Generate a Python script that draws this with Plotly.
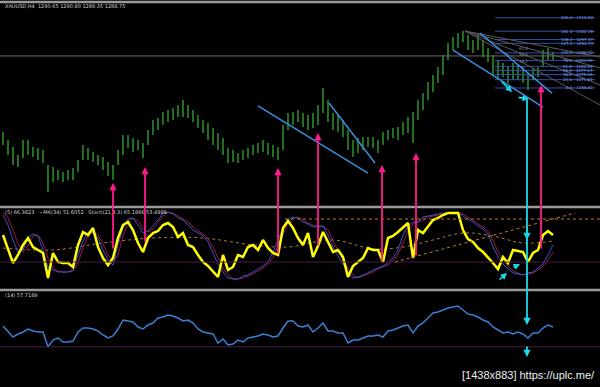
import plotly.graph_objects as go

# ---------------- data ----------------
bar_high = [1238.9,1233.8,1229.4,1224.4,1233.8,1233.8,1229.4,1228.8,1227.5,1218.1,
1216.8,1214.9,1213.7,1214.9,1216.2,1221.2,1230.7,1228.8,1226.3,1224.4,
1223.1,1220.0,1218.1,1227.5,1237.0,1237.0,1235.1,1233.8,1231.9,1240.1,
1246.4,1247.7,1251.5,1252.7,1254.0,1255.9,1259.0,1255.9,1252.7,1249.6,
1246.4,1244.5,1241.4,1238.2,1235.1,1228.8,1227.5,1225.6,1227.5,1228.8,
1230.7,1231.9,1233.8,1231.9,1230.7,1229.4,1243.3,1250.9,1251.5,1252.7,
1250.9,1249.6,1250.9,1255.9,1266.6,1259.0,1250.9,1249.6,1246.4,1240.1,
1233.8,1235.1,1235.7,1235.7,1235.7,1233.8,1238.9,1240.1,1241.4,1242.0,
1245.2,1248.3,1251.5,1259.0,1263.4,1270.4,1274.8,1279.8,1287.4,1294.9,
1298.7,1301.3,1302.5,1300.0,1296.8,1300.0,1296.8,1291.8,1287.4,1284.2,
1282.3,1279.8,1282.3,1281.1,1279.8,1274.8,1279.2,1279.8,1290.5,1291.8,
1289.3]
bar_low = [1230.7,1224.4,1218.1,1216.8,1222.5,1224.4,1223.1,1221.2,1219.3,1201.1,
1207.4,1208.6,1207.4,1208.6,1208.6,1213.7,1221.2,1221.2,1220.0,1218.1,
1214.9,1211.2,1208.6,1218.1,1224.4,1228.8,1226.3,1227.5,1222.5,1230.7,
1237.0,1240.1,1243.3,1245.2,1246.4,1248.3,1248.3,1247.7,1245.2,1241.4,
1238.2,1233.8,1230.7,1227.5,1224.4,1219.3,1220.0,1219.3,1221.2,1222.5,
1224.4,1225.6,1226.3,1224.4,1223.1,1221.2,1227.5,1240.1,1243.3,1245.2,
1242.0,1240.1,1241.4,1243.3,1250.9,1245.2,1240.1,1238.9,1235.7,1227.5,
1223.1,1225.6,1227.5,1229.4,1228.8,1225.6,1230.7,1233.8,1235.1,1233.8,
1237.0,1238.2,1231.9,1246.4,1252.7,1259.0,1264.1,1269.7,1274.8,1284.2,
1290.5,1291.8,1295.6,1290.5,1288.6,1290.5,1286.1,1283.0,1274.8,1271.6,
1273.5,1269.7,1271.6,1271.6,1269.7,1265.3,1271.6,1273.5,1279.8,1284.2,
1284.2]

osc_fast = [66,43.5,24,36,51,61.5,48,43.5,39,1.5,
39,25.5,24,24,18,51,70.5,66,76.5,48,
31.5,21,31.5,61.5,81,85.5,73.5,54,40.5,61.5,
69,72,81,84,78,63,69,51,48,36,
25.5,19.5,10.5,3,36,13.5,18,36,33,48,
51,43.5,58.5,46.5,39,36,76.5,87,76.5,61.5,
51,69,33,49.5,70.5,55.5,40.5,43.5,33,3,
19.5,25.5,31.5,46.5,43.5,43.5,25.5,61.5,64.5,70.5,
78,84,31.5,73.5,69,79.5,88.5,91.5,96,99,
99,99,73.5,60,55.5,46.5,40.5,33,24,15,
33,24,43.5,42,40.5,25.5,39,43.5,66,72,
66]

stoch_main = [96,81,58.5,40.5,43.5,61.5,67.5,64.5,43.5,18,
13.5,10.5,10.5,10.5,13.5,36,57,70.5,69,61.5,
43.5,28.5,21,51,76.5,90,91.5,81,69,72,
79.5,88.5,99,100,97.5,91.5,88.5,81,73.5,69,
64.5,55.5,39,22.5,10.5,1.5,0,0,4.5,6,
10.5,15,19.5,25.5,40.5,58.5,76.5,90,93,91.5,
85.5,82.5,78,79.5,79.5,66,48,34.5,22.5,10.5,
1.5,3,6,9,13.5,16.5,19.5,24,31.5,43.5,
66,79.5,85.5,85.5,93,94.5,96,97.5,99,99,
99,99,94.5,90,85.5,79.5,75,67.5,48,33,
22.5,15,9,7.5,6,9,10.5,16.5,22.5,36,
51]

stoch_signal = [100,91.5,73.5,52.5,40.5,49.5,64.5,66,54,31.5,
16.5,12,10.5,10.5,12,24,46.5,64.5,70.5,66,
52.5,36,25.5,36,64.5,84,91.5,87,75,70.5,
75,84,94.5,100,99,94.5,90,85.5,78,72,
67.5,60,48,31.5,16.5,6,0,0,1.5,4.5,
7.5,12,16.5,22.5,33,49.5,67.5,84,91.5,93,
88.5,84,81,78,79.5,73.5,57,42,28.5,16.5,
6,1.5,4.5,7.5,10.5,15,18,21,27,37.5,
54,72,82.5,85.5,88.5,93,94.5,96,97.5,99,
99,99,97.5,93,88.5,82.5,78,72,58.5,40.5,
28.5,19.5,12,9,6,7.5,9,13.5,19.5,28.5,
40.5]

ma34_idx = [0, 10, 20, 30, 40, 50, 57, 66, 74, 80, 86, 92, 98, 104, 110]
ma34_val = [46.5, 43.5, 54, 61.5, 61.5, 51, 48, 58.5, 45, 48, 58.5, 69, 64.5, 54, 57]

rsi14 = [59.1,50.7,43.7,47.9,50.7,54.9,52.1,50.7,50.7,29.7,
39.5,42.3,36.7,36.7,38.1,50.7,56.3,56.3,54.9,52.1,
46.5,42.3,45.1,54.9,67.5,66.1,64.7,57.7,54.9,60.5,
63.3,70.3,71.7,74.5,73.1,70.3,66.1,67.5,63.3,54.9,
50.7,49.3,47.9,35.3,40.9,32.5,33.9,39.5,36.7,42.3,
43.7,45.1,47.9,46.5,43.7,45.1,56.3,66.1,66.1,59.1,
57.7,60.5,50.7,56.3,63.3,52.1,52.1,49.3,49.3,35.3,
39.5,39.5,42.3,45.1,45.1,46.5,43.7,52.1,53.5,56.3,
59.1,60.5,49.3,59.1,63.3,70.3,77.3,78.7,81.5,84.3,
85.7,87.1,81.5,75.9,74.5,71.7,67.5,64.7,57.7,53.5,
49.3,50.7,47.9,50.7,47.9,42.3,49.3,49.3,56.3,60.5,
57.7]

fib_levels = ["200.0", "161.8", "138.2", "127.2", "100.0", "78.6", "61.8", "50.0", "38.2", "23.6", "0.0"]
fib_prices = [1310.83, 1302.39, 1297.17, 1294.74, 1288.72, 1283.99, 1280.28, 1277.67, 1275.06, 1271.84, 1266.62]

header_price = "XAUUSD,H4  1290.65 1290.80 1286.35 1288.75"
header_osc = "(5) 66.3823   ~MA(34) 51.6052   Stoch(21,3,3) 65.1866 53.4989"
header_rsi = "(14) 57.7189"
watermark = "[1438x883] https://uplc.me/"

# ---------------- drawing ----------------
n = len(bar_high)
idx = list(range(n))

GREEN = "#2f9f2f"
BG = "#000000"
SEP = "#9a9a9a"

fig = go.Figure()

bx, by = [], []
for i in idx:
    bx += [i, i, None]
    by += [bar_low[i], bar_high[i], None]
fig.add_trace(go.Scatter(x=bx, y=by, mode="lines", line=dict(color=GREEN, width=1.4),
                         xaxis="x", yaxis="y", hoverinfo="skip"))

fig.add_trace(go.Scatter(x=ma34_idx, y=ma34_val, mode="lines",
                         line=dict(color="#b07a3a", width=1, dash="dot", shape="spline"),
                         xaxis="x", yaxis="y2", hoverinfo="skip"))
fig.add_trace(go.Scatter(x=idx, y=stoch_signal, mode="lines", line=dict(color="#a01848", width=1),
                         xaxis="x", yaxis="y2", hoverinfo="skip"))
fig.add_trace(go.Scatter(x=idx, y=stoch_main, mode="lines", line=dict(color="#3456c8", width=1),
                         xaxis="x", yaxis="y2", hoverinfo="skip"))
fig.add_trace(go.Scatter(x=idx, y=osc_fast, mode="lines", line=dict(color="#ffff00", width=2.5),
                         xaxis="x", yaxis="y2", hoverinfo="skip"))

fig.add_trace(go.Scatter(x=idx, y=rsi14, mode="lines", line=dict(color="#3a7fd2", width=1.5),
                         xaxis="x", yaxis="y3", hoverinfo="skip"))

shapes = []
for yp, w in [(1 - 2 / 387, 2.5), (1 - 207 / 387, 2.5), (1 - 290 / 387, 2.5)]:
    shapes.append(dict(type="line", xref="paper", yref="paper", x0=0, x1=1, y0=yp, y1=yp,
                       line=dict(color=SEP, width=w)))
shapes.append(dict(type="line", xref="paper", yref="y", x0=0, x1=1, y0=1286.8, y1=1286.8,
                   line=dict(color="#6a6a6a", width=1)))
shapes.append(dict(type="line", xref="paper", yref="y2", x0=0, x1=1, y0=25.5, y1=25.5,
                   line=dict(color="#4a1848", width=1)))
shapes.append(dict(type="line", xref="paper", yref="y3", x0=0, x1=1, y0=30, y1=30,
                   line=dict(color="#4a1848", width=1)))

for p in fib_prices:
    shapes.append(dict(type="line", xref="x", yref="y", x0=98.4, x1=118.4, y0=p, y1=p,
                       line=dict(color="#3050a8", width=1)))
for p_end in [1286.1, 1279.2, 1268.5, 1255.9]:
    shapes.append(dict(type="line", xref="x", yref="y", x0=92.4, y0=1302.5, x1=119.4, y1=p_end,
                       line=dict(color="#5a5a5a", width=1)))
for (x0, y0, x1, y1) in [(51, 1255.3, 73, 1213.0), (65.2, 1257.2, 74.4, 1219.4),
                         (90, 1290.5, 108, 1254.6), (95.4, 1301.2, 109.8, 1263.4)]:
    shapes.append(dict(type="line", xref="x", yref="y", x0=x0, y0=y0, x1=x1, y1=y1,
                       line=dict(color="#3a8ee0", width=1.5)))
shapes.append(dict(type="line", xref="x", yref="y2", x0=56.4, y0=90, x1=119.4, y1=90,
                   line=dict(color="#c07a30", width=1, dash="dot")))
shapes.append(dict(type="line", xref="x", yref="y2", x0=78.4, y0=25.5, x1=114.4, y1=99,
                   line=dict(color="#c07a30", width=1, dash="dot")))

ann = []
font_small = dict(family="DejaVu Sans", size=5, color="#d0d0d0")
ann.append(dict(text=header_price, xref="paper", yref="paper", x=3 / 600, y=1 - 6 / 387,
                xanchor="left", yanchor="middle", showarrow=False, font=font_small))
ann.append(dict(text=header_osc, xref="paper", yref="paper", x=3 / 600, y=1 - 211.5 / 387,
                xanchor="left", yanchor="middle", showarrow=False, font=font_small))
ann.append(dict(text=header_rsi, xref="paper", yref="paper", x=3 / 600, y=1 - 294.5 / 387,
                xanchor="left", yanchor="middle", showarrow=False, font=font_small))
for lv, p in zip(fib_levels, fib_prices):
    ann.append(dict(text=f"{lv} - {p:.2f}", xref="x", yref="y", x=118.4, y=p,
                    xanchor="right", yanchor="middle", showarrow=False,
                    font=dict(family="DejaVu Sans", size=4, color="#7f9fe0")))
for lv, p in [("61.8", 1291.2), ("50.0", 1287.4), ("38.2", 1283.0)]:
    ann.append(dict(text=lv, xref="x", yref="y", x=104, y=p, showarrow=False,
                    font=dict(family="DejaVu Sans", size=4, color="#8a8a8a")))

MAG = "#ff1a8c"
for (xi, head, length) in [(22, 1206.75, 67), (28.4, 1216.8, 76), (55, 1216.2, 87),
                           (63, 1238.25, 114), (75.8, 1218.1, 97), (82.6, 1225.65, 104),
                           (107.6, 1268.5, 165)]:
    ann.append(dict(text="", x=xi, y=head, xref="x", yref="y", ax=0, ay=length,
                    showarrow=True, arrowhead=2, arrowsize=0.8, arrowwidth=1.8, arrowcolor=MAG))

CY = "#19d9e6"
ann.append(dict(text="", x=104.8, y=60.5, xref="x", yref="y3", ax=0, ay=-227,
                showarrow=True, arrowhead=2, arrowsize=0.8, arrowwidth=1.8, arrowcolor=CY))
ann.append(dict(text="", x=104.8, y=58.5, xref="x", yref="y2", ax=0, ay=-15,
                showarrow=True, arrowhead=2, arrowsize=0.8, arrowwidth=1.8, arrowcolor=CY))
ann.append(dict(text="", x=104.8, y=15.7, xref="x", yref="y3", ax=0, ay=-12,
                showarrow=True, arrowhead=2, arrowsize=0.8, arrowwidth=1.8, arrowcolor=CY))
ann.append(dict(text="", x=101.8, y=1264.1, xref="x", yref="y", ax=-12, ay=-12,
                showarrow=True, arrowhead=2, arrowsize=0.8, arrowwidth=1.6, arrowcolor=CY))
ann.append(dict(text="", x=105.2, y=1259.6, xref="x", yref="y", ax=-12, ay=-2,
                showarrow=True, arrowhead=2, arrowsize=0.8, arrowwidth=1.6, arrowcolor=CY))
ann.append(dict(text="", x=100.8, y=9, xref="x", yref="y2", ax=-9, ay=8,
                showarrow=True, arrowhead=2, arrowsize=0.8, arrowwidth=1.6, arrowcolor=CY))
ann.append(dict(text="", x=103.4, y=22.5, xref="x", yref="y2", ax=-8, ay=4,
                showarrow=True, arrowhead=2, arrowsize=0.8, arrowwidth=1.6, arrowcolor=CY))

ann.append(dict(text=watermark, xref="paper", yref="paper", x=597 / 600, y=1 - 375 / 387,
                xanchor="right", yanchor="middle", showarrow=False,
                font=dict(family="Liberation Sans", size=11, color="#f0f0f0")))

ax_hidden = dict(visible=False, showgrid=False, zeroline=False, fixedrange=True)
fig.update_layout(
    width=600, height=387,
    margin=dict(l=0, r=0, t=0, b=0),
    paper_bgcolor=BG, plot_bgcolor=BG,
    showlegend=False,
    xaxis=dict(ax_hidden, domain=[0, 1], range=[-0.6, 119.4], anchor="y3"),
    yaxis=dict(ax_hidden, domain=[1 - 205 / 387, 1 - 5 / 387], range=[1192.89, 1318.89], anchor="x"),
    yaxis2=dict(ax_hidden, domain=[1 - 288 / 387, 1 - 209 / 387], range=[-13.5, 105], anchor="x"),
    yaxis3=dict(ax_hidden, domain=[0, 1 - 292 / 387], range=[-26.3, 106.7], anchor="x"),
    shapes=shapes,
    annotations=ann,
)

fig.write_html("out.html")
